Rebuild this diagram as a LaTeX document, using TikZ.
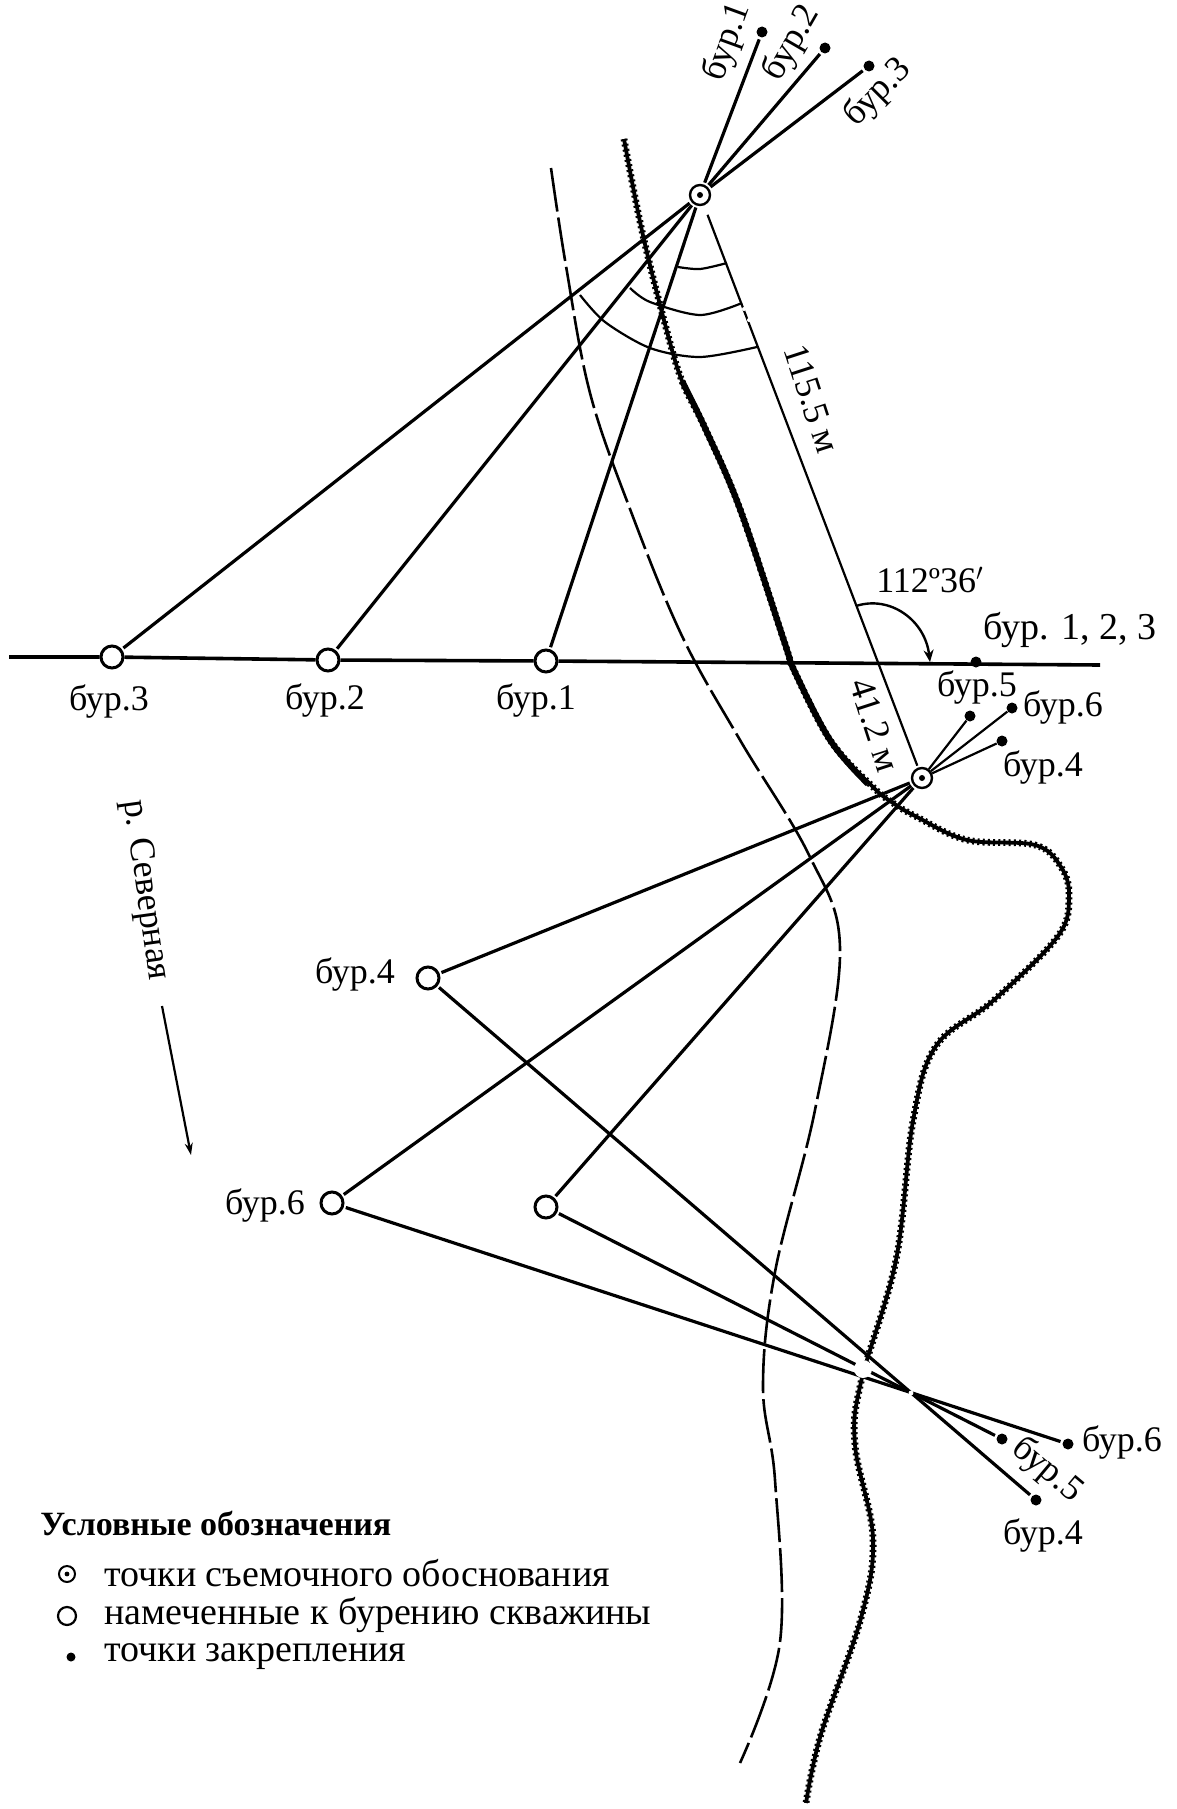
\documentclass[tikz,border=0pt]{standalone}
\usepackage{fontspec}
\setmainfont{Liberation Serif}
\usetikzlibrary{arrows.meta}
\tikzset{
 hole/.style={circle,draw,fill=white,line width=1.5pt,minimum size=11pt,inner sep=0pt},
 station/.style={circle,draw,fill=white,line width=1.2pt,minimum size=10pt,inner sep=0pt,
   path picture={\fill[black] (path picture bounding box.center) circle (1.5pt);}},
 fix/.style={circle,fill=black,minimum size=5.5pt,inner sep=0pt},
 lbl/.style={font=\fontsize{18}{18}\selectfont,inner sep=0pt},
 leg/.style={font=\fontsize{19}{19}\selectfont,inner sep=0pt,anchor=west},
 ray/.style={line width=1.6pt,shorten <=1pt,shorten >=1pt},
 thinline/.style={line width=1.1pt},
 arcline/.style={line width=1.1pt},
 bankcore/.style={line width=1.9pt},
 banktooth/.style={line width=3.4pt,dash pattern=on 1pt off 1.6pt},
 bankheavy/.style={line width=3pt},
 path2/.style={line width=1.3pt,dash pattern=on 22pt off 3pt}
}
\newcommand{\bankpts}{(624,139)(642,231)(665,324)(682,381)(705,428)(740,509)(786,647)(793,668)(830,740)(873,787)(893,803)(917,817)(967,840)(1035,845)(1061,867)(1069,896)(1058,936)(994,1000)(936,1046)(913,1121)(896,1260)(861,1382)(855,1445)(873,1538)(861,1618)(821,1734)(806,1803)}
\begin{document}
\begin{tikzpicture}[x=0.5pt,y=-0.5pt]
\useasboundingbox (0,0) rectangle (1177,1809);
\fill[white] (0,0) rectangle (1177,1809);
% dashed line
\draw[path2] plot[smooth,tension=0.6] coordinates {(551,168)(566,266)(590,393)(630,509)(682,636)(740,740)(809,855)(840,948)(815,1110)(775,1272)(763,1387)(775,1480)(780,1642)(740,1763)};
% river bank
\draw[bankcore] plot[smooth,tension=0.6] coordinates {\bankpts};
\draw[banktooth] plot[smooth,tension=0.6] coordinates {\bankpts};
\draw[bankheavy] plot[smooth,tension=0.6] coordinates {(682,381)(705,428)(740,509)(786,647)(793,668)(830,740)(868,784)};
% nodes
\node[station] (A) at (700,195) {};
\node[fix] (a1) at (762,32) {};
\node[fix] (a2) at (825,48) {};
\node[fix] (a3) at (869,66) {};
\node[hole] (h3) at (112,657) {};
\node[hole] (h2) at (328,660) {};
\node[hole] (h1) at (546,661) {};
\coordinate (bl) at (9,657);
\coordinate (br) at (1100,665);
\node[fix] (p5) at (976,662) {};
\node[station] (B) at (922,778) {};
\node[fix] (b5) at (970,716) {};
\node[fix] (b6) at (1012,708) {};
\node[fix] (b4) at (1002,741) {};
\node[hole] (h4) at (428,978) {};
\node[hole] (h6) at (332,1203) {};
\node[hole] (h5) at (546,1207) {};
\node[fix] (c6) at (1068,1444) {};
\node[fix] (c5) at (1002,1439) {};
\node[fix] (c4) at (1036,1500) {};
% base line
\draw[line width=1.8pt] (bl) -- (h3) -- (h2) -- (h1) -- (br);
% rays
\foreach \h in {h1,h2,h3}{\draw[ray] (\h) -- (A);}
\foreach \e in {a1,a2,a3}{\draw[ray] (A) -- (\e);}
\foreach \h in {h4,h6,h5}{\draw[ray] (\h) -- (B);}
\foreach \e in {b5,b6,b4}{\draw[thinline] (B) -- (\e);}
\draw[ray] (h4) -- (c4);
\draw[ray] (h6) -- (c6);
\draw[ray] (h5) -- (c5);
% survey line
\draw[thinline,shorten <=5pt,shorten >=1pt] (A) -- (B);
% breaks in the lines
\fill[white] (863,1369) circle (4.5pt);
\fill[white] (911,1393) circle (1.2pt);
\fill[white] (744,309) circle (1pt);
\fill[white] (749,320) circle (1pt);
% angle arcs
\draw[arcline] plot[smooth] coordinates {(678,267)(700,269)(727,263)};
\draw[arcline] plot[smooth] coordinates {(630,288)(650,302)(700,315)(742,303)};
\draw[arcline] plot[smooth] coordinates {(580,295)(605,322)(650,348)(700,357)(757,347)};
% direction angle
\coordinate (t0) at (856,606);
\coordinate (t1) at (930,662);
\draw[line width=1.2pt,-{Stealth[length=6pt,width=5pt]}] (t0) .. controls (890,595) and (925,620) .. (t1);
% labels
\node[lbl,rotate=70] (l1) at (728,42) {бур.1};
\node[lbl,rotate=60] (l2) at (792,43) {бур.2};
\node[lbl,rotate=45] (l3) at (878,93) {бур.3};
\node[lbl,rotate=-72] (ld1) at (812,399) {115.5 м};
\node[lbl,rotate=-72] (ld2) at (875,725) {41.2 м};
\node[lbl] (lang) at (930,580) {112º36$'$};
\node[lbl,font=\fontsize{19}{19}\selectfont] (lb123) at (1070,630) {бур. 1, 2, 3};
\node[lbl] (lb5) at (977,687) {бур.5};
\node[lbl] (lb6) at (1063,707) {бур.6};
\node[lbl] (lb4) at (1043,767) {бур.4};
\node[lbl] (lh3) at (109,701) {бур.3};
\node[lbl] (lh2) at (325,700) {бур.2};
\node[lbl] (lh1) at (536,700) {бур.1};
\node[lbl] (lh4) at (355,974) {бур.4};
\node[lbl] (lh6) at (265,1205) {бур.6};
\node[lbl,rotate=-82] (lriv) at (145,890) {р. Северная};
\coordinate (r0) at (162,1006);
\coordinate (r1) at (191,1155);
\draw[line width=1.1pt,-{Stealth[length=6pt,width=4pt]}] (r0) -- (r1);
\node[lbl] (lc6) at (1122,1442) {бур.6};
\node[lbl,rotate=-40] (lc5) at (1047,1470) {бур.5};
\node[lbl] (lc4) at (1043,1535) {бур.4};
% legend
\node[leg,font=\fontsize{17}{17}\selectfont\bfseries] (t) at (40,1523) {Условные обозначения};
\node[station,minimum size=8pt,line width=1pt,path picture={\fill[black] (path picture bounding box.center) circle (1.2pt);}] (s1) at (67,1574) {};
\node[leg] (e1) at (104,1573) {точки съемочного обоснования};
\node[hole,minimum size=9pt,line width=1.1pt] (s2) at (67,1616) {};
\node[leg] (e2) at (104,1615) {намеченные к бурению скважины};
\node[fix,minimum size=4.5pt] (s3) at (71,1657) {};
\node[leg] (e3) at (104,1657) {точки закрепления};
\end{tikzpicture}
\end{document}
